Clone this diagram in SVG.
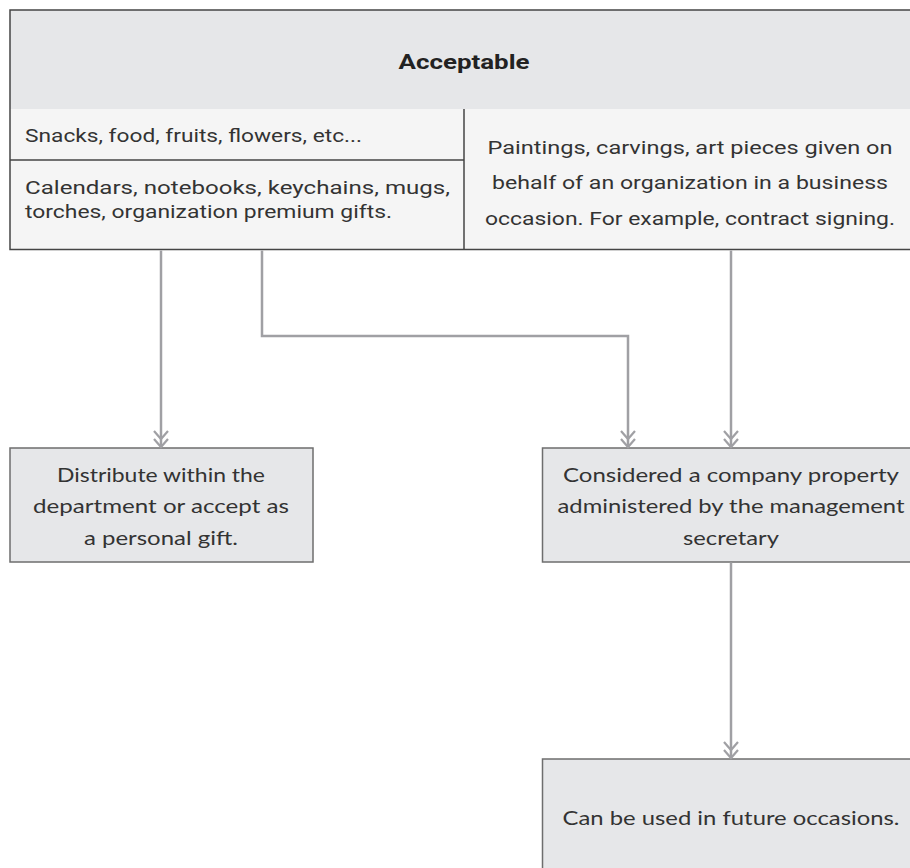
<svg xmlns="http://www.w3.org/2000/svg" width="910" height="868" viewBox="0 0 910 868">
<style>
.hdr{fill:#e6e7e9}
.cell{fill:#f5f5f5}
.frame{fill:none;stroke:#454545;stroke-width:1.5}
.node{fill:#e6e7e9;stroke:#6e6e6e;stroke-width:1.5}
.t1{font-family:Roboto,"Liberation Sans",sans-serif;font-size:19px;fill:#333}
.tb{font-family:Roboto,"Liberation Sans",sans-serif;font-size:20px;font-weight:bold;fill:#222}
.t2{font-family:Lato,"Noto Sans",sans-serif;font-size:20px;fill:#333;text-anchor:middle}
.conn{fill:none;stroke:#a0a0a4;stroke-width:2.5}
</style>
<defs>
<marker id="dbl" markerUnits="userSpaceOnUse" viewBox="-19 -9 21 18" markerWidth="21" markerHeight="18" refX="0" refY="0" orient="auto">
<path d="M-16,-7 L-8,0 L-16,7 M-8,-7 L0,0 L-8,7" fill="none" stroke="#a0a0a4" stroke-width="2.2"/>
</marker>
</defs>
<rect width="910" height="868" fill="#fff"/>
<g id="acceptable">
<rect class="hdr" x="10" y="10" width="910" height="99"/>
<rect class="cell" x="10" y="109" width="910" height="140.5"/>
<path class="frame" d="M920,10 H10 V249.5 H920 M464,109 V249.5 M10,160 H464"/>
<text class="tb" x="464" y="69" text-anchor="middle" textLength="131" lengthAdjust="spacingAndGlyphs">Acceptable</text>
<text class="t1" x="25" y="142" textLength="337" lengthAdjust="spacingAndGlyphs">Snacks, food, fruits, flowers, etc...</text>
<text class="t1" x="25" y="194" textLength="425" lengthAdjust="spacingAndGlyphs">Calendars, notebooks, keychains, mugs,</text>
<text class="t1" x="25" y="218" textLength="367" lengthAdjust="spacingAndGlyphs">torches, organization premium gifts.</text>
<text class="t1" x="690" y="154" text-anchor="middle" textLength="405" lengthAdjust="spacingAndGlyphs">Paintings, carvings, art pieces given on</text>
<text class="t1" x="690" y="189" text-anchor="middle" textLength="396" lengthAdjust="spacingAndGlyphs">behalf of an organization in a business</text>
<text class="t1" x="690" y="225" text-anchor="middle" textLength="410" lengthAdjust="spacingAndGlyphs">occasion. For example, contract signing.</text>
</g>
<g id="distribute">
<rect class="node" x="10" y="448" width="303" height="114"/>
<text class="t2" x="161" y="482" textLength="208" lengthAdjust="spacingAndGlyphs">Distribute within the</text>
<text class="t2" x="161" y="513" textLength="256" lengthAdjust="spacingAndGlyphs">department or accept as</text>
<text class="t2" x="161" y="545" textLength="154" lengthAdjust="spacingAndGlyphs">a personal gift.</text>
</g>
<g id="company-property">
<rect class="node" x="542.5" y="448" width="380" height="114"/>
<text class="t2" x="731" y="482" textLength="336" lengthAdjust="spacingAndGlyphs">Considered a company property</text>
<text class="t2" x="731" y="513" textLength="347" lengthAdjust="spacingAndGlyphs">administered by the management</text>
<text class="t2" x="731" y="545" textLength="96" lengthAdjust="spacingAndGlyphs">secretary</text>
</g>
<g id="future">
<rect class="node" x="542.5" y="759" width="380" height="120"/>
<text class="t2" x="731" y="825" textLength="337" lengthAdjust="spacingAndGlyphs">Can be used in future occasions.</text>
</g>
<g id="connectors">
<path class="conn" d="M161,250.5 V447" marker-end="url(#dbl)"/>
<path class="conn" d="M262,250.5 V336 H628 V447" marker-end="url(#dbl)"/>
<path class="conn" d="M731,250.5 V447" marker-end="url(#dbl)"/>
<path class="conn" d="M731,562.5 V758" marker-end="url(#dbl)"/>
</g>
</svg>
